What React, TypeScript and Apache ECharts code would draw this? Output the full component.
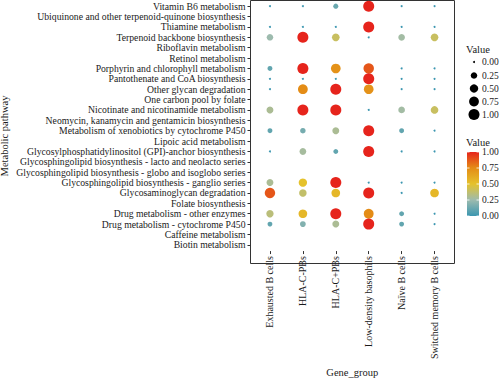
import React, { useEffect, useRef } from "react";
import * as echarts from "echarts";

const pathways = [
  "Vitamin B6 metabolism",
  "Ubiquinone and other terpenoid-quinone biosynthesis",
  "Thiamine metabolism",
  "Terpenoid backbone biosynthesis",
  "Riboflavin metabolism",
  "Retinol metabolism",
  "Porphyrin and chlorophyll metabolism",
  "Pantothenate and CoA biosynthesis",
  "Other glycan degradation",
  "One carbon pool by folate",
  "Nicotinate and nicotinamide metabolism",
  "Neomycin, kanamycin and gentamicin biosynthesis",
  "Metabolism of xenobiotics by cytochrome P450",
  "Lipoic acid metabolism",
  "Glycosylphosphatidylinositol (GPI)-anchor biosynthesis",
  "Glycosphingolipid biosynthesis - lacto and neolacto series",
  "Glycosphingolipid biosynthesis - globo and isoglobo series",
  "Glycosphingolipid biosynthesis - ganglio series",
  "Glycosaminoglycan degradation",
  "Folate biosynthesis",
  "Drug metabolism - other enzymes",
  "Drug metabolism - cytochrome P450",
  "Caffeine metabolism",
  "Biotin metabolism",
];

const groups = [
  "Exhausted B cells",
  "HLA-C-PBs",
  "HLA-C+PBs",
  "Low-density basophils",
  "Naïve B cells",
  "Switched memory B cells",
];

// values per pathway (row), columns follow `groups`; null = no dot
const vitaminB6 = [0, 0, 0.12, 1, 0, 0];
const ubiquinone = null;
const thiamine = [0, 0, 0, 1, 0, 0];
const terpenoid = [0.25, 1, 0.4, 0, 0.27, 0.4];
const riboflavin = null;
const retinol = null;
const porphyrin = [0.1, 1, 0.72, 0.88, 0, 0];
const pantothenate = [0, 0, 0, 1, 0, 0];
const otherGlycan = [0, 0.75, 1, 0.72, 0, 0];
const oneCarbon = null;
const nicotinate = [0.3, 1, 1, 0, 0.27, 0.4];
const neomycin = null;
const xenobiotics = [0.1, 0.15, 0.3, 1, 0.1, 0];
const lipoic = null;
const gpiAnchor = [0, 0.28, 0.1, 1, 0, 0];
const lactoSeries = null;
const globoSeries = null;
const ganglioSeries = [0.3, 0.5, 1, 0, 0, 0];
const glycosaminoglycan = [0.88, 0.38, 0.55, 1, 0, 0.55];
const folate = null;
const drugOther = [0.35, 0.55, 1, 0.75, 0.1, 0];
const drugP450 = [0.1, 0.18, 0.3, 1, 0.1, 0];
const caffeine = null;
const biotin = null;

const rows = [
  vitaminB6, ubiquinone, thiamine, terpenoid, riboflavin, retinol, porphyrin,
  pantothenate, otherGlycan, oneCarbon, nicotinate, neomycin, xenobiotics,
  lipoic, gpiAnchor, lactoSeries, globoSeries, ganglioSeries, glycosaminoglycan,
  folate, drugOther, drugP450, caffeine, biotin,
];

const legendValues = [0, 0.25, 0.5, 0.75, 1];
const legendLabels = ["0.00", "0.25", "0.50", "0.75", "1.00"];

const palette = ["#3B96B0", "#9DBBAE", "#E5C22C", "#E48C16", "#E6241C"];
const FONT = "Liberation Serif";
const TXT = "#1a1a1a";

const sizeOf = (v: number) => 2 + 9 * Math.sqrt(v);

export default function App() {
  const ref = useRef<HTMLDivElement>(null);
  useEffect(() => {
    if (!ref.current) return;
    const chart = echarts.init(ref.current, undefined, { renderer: "svg" });

    const data: number[][] = [];
    rows.forEach((r, ri) => {
      if (!r) return;
      r.forEach((v, ci) => data.push([ci, ri, v]));
    });

    const graphics: any[] = [];
    // panel frame
    graphics.push({
      type: "rect",
      shape: { x: 250.5, y: 0.5, width: 204, height: 263 },
      style: { fill: "none", stroke: "#333", lineWidth: 1 },
      silent: true,
    });
    // y-axis title
    graphics.push({
      type: "text",
      x: 4.5,
      y: 136,
      rotation: Math.PI / 2,
      style: {
        text: "Metabolic pathway",
        font: `10.5px "${FONT}"`,
        fill: TXT,
        align: "center",
        verticalAlign: "middle",
      },
    });
    // size legend
    const sizeYs = [62, 75.5, 88.5, 101.5, 114.5];
    graphics.push({
      type: "text",
      x: 466,
      y: 49,
      style: { text: "Value", font: `10.5px "${FONT}"`, fill: TXT, verticalAlign: "middle" },
    });
    legendValues.forEach((v, i) => {
      graphics.push({
        type: "circle",
        shape: { cx: 474, cy: sizeYs[i], r: sizeOf(v) / 2 },
        style: { fill: "#000" },
      });
      graphics.push({
        type: "text",
        x: 482,
        y: sizeYs[i],
        style: { text: legendLabels[i], font: `9.5px "${FONT}"`, fill: TXT, verticalAlign: "middle" },
      });
    });
    // colour bar
    const barX = 467, barY = 152, barW = 12, barH = 64;
    graphics.push({
      type: "text",
      x: 466,
      y: 142,
      style: { text: "Value", font: `10.5px "${FONT}"`, fill: TXT, verticalAlign: "middle" },
    });
    graphics.push({
      type: "rect",
      shape: { x: barX, y: barY, width: barW, height: barH },
      style: {
        fill: new echarts.graphic.LinearGradient(0, 1, 0, 0,
          palette.map((c, i) => ({ offset: i / (palette.length - 1), color: c }))),
      },
    });
    legendValues.forEach((v, i) => {
      const y = barY + (1 - v) * barH;
      graphics.push({
        type: "line",
        shape: { x1: barX, y1: y, x2: barX + 2.5, y2: y },
        style: { stroke: "#fff", lineWidth: 0.8 },
      });
      graphics.push({
        type: "line",
        shape: { x1: barX + barW - 2.5, y1: y, x2: barX + barW, y2: y },
        style: { stroke: "#fff", lineWidth: 0.8 },
      });
      graphics.push({
        type: "text",
        x: barX + barW + 3,
        y,
        style: { text: legendLabels[i], font: `9.5px "${FONT}"`, fill: TXT, verticalAlign: "middle" },
      });
    });

    chart.setOption({
      animation: false,
      backgroundColor: "#fff",
      textStyle: { fontFamily: FONT },
      grid: { left: 253.5, top: 1, width: 197.5, height: 261.5, containLabel: false },
      xAxis: {
        type: "category",
        data: groups,
        offset: 1,
        axisLine: { show: false },
        axisTick: { show: true, alignWithLabel: true, length: 3, lineStyle: { color: "#333" } },
        axisLabel: { rotate: 90, fontSize: 10, color: TXT, fontFamily: FONT, margin: 5, interval: 0 },
        name: "Gene_group",
        nameLocation: "middle",
        nameGap: 112,
        nameTextStyle: { fontSize: 10.5, color: TXT, fontFamily: FONT },
        splitLine: { show: false },
      },
      yAxis: {
        type: "category",
        data: pathways,
        inverse: true,
        offset: 3,
        axisLine: { show: false },
        axisTick: { show: true, alignWithLabel: true, length: 3, lineStyle: { color: "#333" } },
        axisLabel: { fontSize: 9.7, color: TXT, fontFamily: FONT, margin: 5, interval: 0 },
        splitLine: { show: false },
      },
      visualMap: {
        type: "continuous",
        show: false,
        min: 0,
        max: 1,
        dimension: 2,
        seriesIndex: 0,
        inRange: { color: palette },
      },
      series: [
        {
          type: "scatter",
          data,
          symbol: "circle",
          symbolSize: (val: number[]) => sizeOf(val[2]),
          itemStyle: { opacity: 1 },
        },
      ],
      graphic: graphics,
    });
    return () => chart.dispose();
  }, []);
  return (
    <div
      ref={ref}
      style={{ position: "fixed", left: 0, top: 0, width: 500, height: 383, background: "#fff" }}
    />
  );
}
